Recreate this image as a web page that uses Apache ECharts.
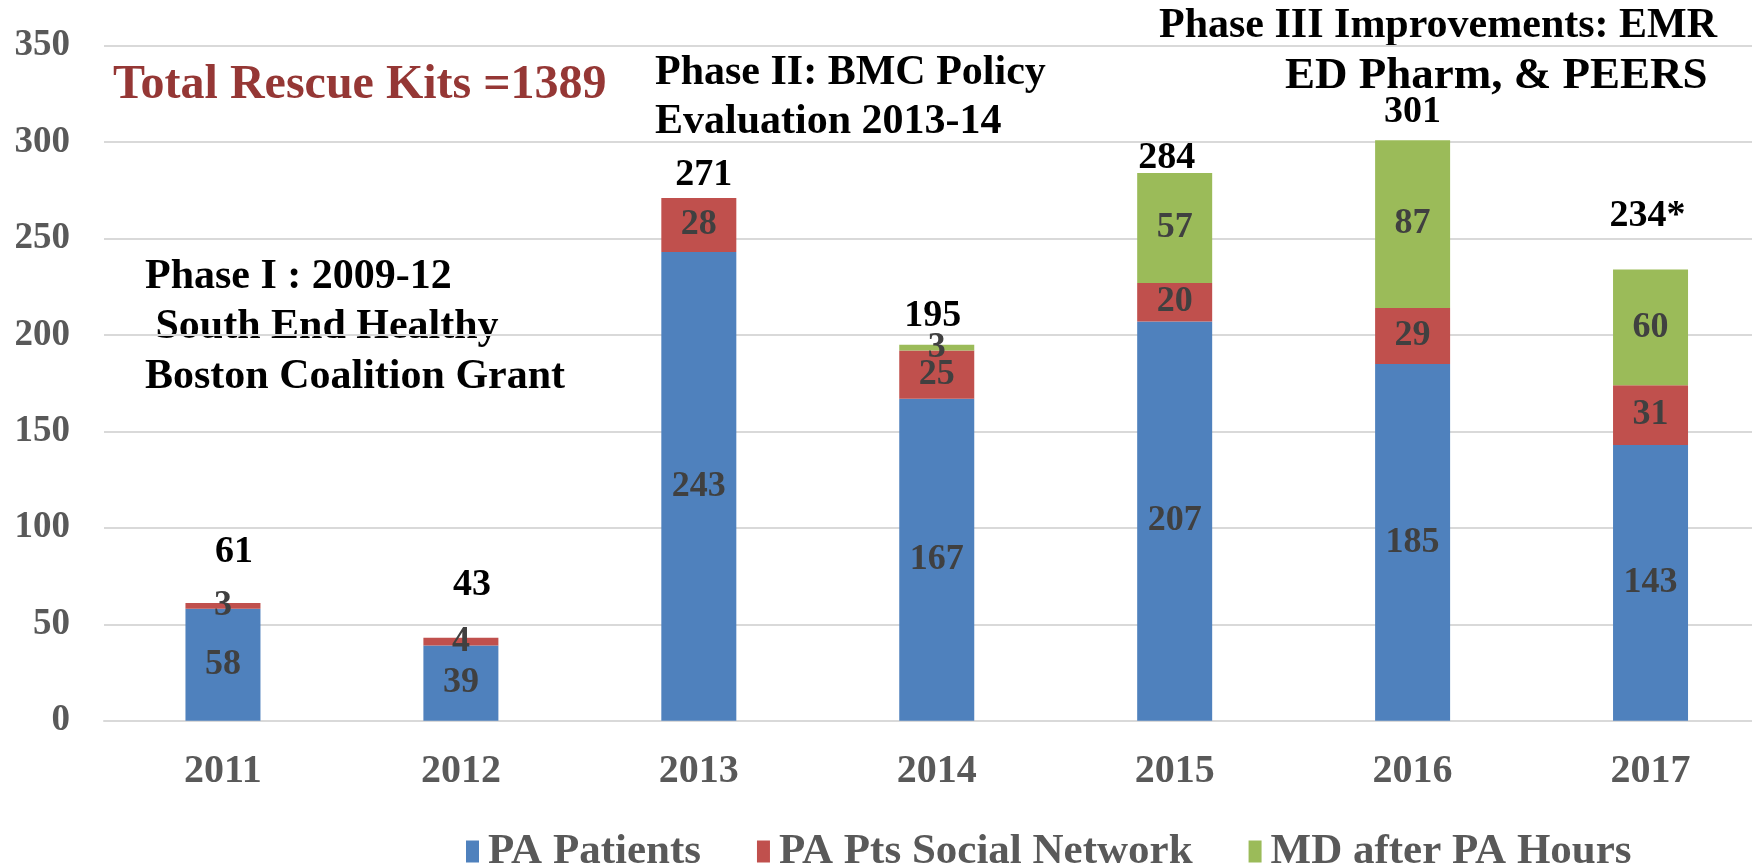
<!DOCTYPE html>
<html>
<head>
<meta charset="utf-8">
<script src="https://cdn.jsdelivr.net/npm/echarts@6/dist/echarts.min.js"></script>
<style>
html,body{margin:0;padding:0;background:#fff;overflow:hidden;width:1752px;height:864px;}
#chart{width:1770px;height:864px;}
</style>
</head>
<body>
<div id="chart"></div>
<script>
const categories = ['2011', '2012', '2013', '2014', '2015', '2016', '2017'];
const paPatients = [58, 39, 243, 167, 207, 185, 143];
const paSocial = [3, 4, 28, 25, 20, 29, 31];
const mdAfter = [0, 0, 0, 3, 57, 87, 60];
const totalLabels = ['61', '43', '271', '195', '284', '301', '234*'];
const yTicks = { min: 0, max: 350, interval: 50 };
const seriesNames = ['PA Patients', 'PA Pts Social Network', 'MD after PA Hours'];

// label nudges (style only): [dx, dy] in px for the hand-placed total labels
const totalLabelNudge = [[11, -26], [11, -28], [5, 2], [-4, -3], [-8, 10], [0, -3], [-3, -28]];

const SERIF = "'Liberation Serif', 'Times New Roman', serif";
const chart = echarts.init(document.getElementById('chart'));

const inLabel = {
  show: true,
  position: 'inside',
  fontFamily: SERIF,
  fontWeight: 'bold',
  fontSize: 36,
  color: '#404040',
  formatter: p => (p.value ? String(p.value) : '')
};

chart.setOption({
  backgroundColor: '#ffffff',
  animation: false,
  grid: { left: 104, right: 0.5, top: 45.7, bottom: 143.3 },
  legend: {
    data: seriesNames,
    left: 461,
    top: 825,
    icon: 'rect',
    itemWidth: 13,
    itemHeight: 22,
    itemGap: 56,
    selectedMode: false,
    textStyle: {
      fontFamily: SERIF,
      fontWeight: 'bold',
      fontSize: 43,
      color: '#595959',
      padding: [0, 0, 0, 4]
    }
  },
  xAxis: {
    type: 'category',
    data: categories,
    axisTick: { show: false },
    axisLine: { show: true, lineStyle: { color: '#D9D9D9', width: 2 } },
    axisLabel: {
      margin: 31,
      fontFamily: SERIF,
      fontWeight: 'bold',
      fontSize: 40,
      color: '#595959'
    }
  },
  yAxis: {
    type: 'value',
    min: yTicks.min,
    max: yTicks.max,
    interval: yTicks.interval,
    axisLine: { show: false },
    axisTick: { show: false },
    splitLine: { lineStyle: { color: '#D9D9D9', width: 2 } },
    axisLabel: {
      margin: 34,
      fontFamily: SERIF,
      fontWeight: 'bold',
      fontSize: 37,
      color: '#595959'
    }
  },
  series: [
    {
      name: seriesNames[0], type: 'bar', stack: 'kits', barWidth: 75,
      data: paPatients, itemStyle: { color: '#4F81BD' }, label: inLabel
    },
    {
      name: seriesNames[1], type: 'bar', stack: 'kits', barWidth: 75,
      data: paSocial, itemStyle: { color: '#C0504D' }, label: inLabel
    },
    {
      name: seriesNames[2], type: 'bar', stack: 'kits', barWidth: 75,
      data: mdAfter, itemStyle: { color: '#9BBB59' }, label: inLabel
    },
    {
      name: 'Total', type: 'bar', stack: 'kits', barWidth: 75,
      data: categories.map((c, i) => ({
        value: 0,
        label: { offset: totalLabelNudge[i] }
      })),
      itemStyle: { color: 'transparent' },
      label: {
        show: true,
        position: 'top',
        distance: 6,
        fontFamily: SERIF,
        fontWeight: 'bold',
        fontSize: 38,
        color: '#000000',
        formatter: p => totalLabels[p.dataIndex]
      }
    }
  ],
  graphic: [
    {
      type: 'text', left: 113, top: 62,
      style: {
        text: 'Total Rescue Kits =1389',
        font: "bold 48px 'Liberation Serif', 'Times New Roman', serif",
        fill: '#953735'
      }
    },
    {
      type: 'text', x: 145, y: 252,
      style: {
        text: 'Phase I : 2009-12\n South End Healthy\nBoston Coalition Grant',
        font: "bold 42px 'Liberation Serif', 'Times New Roman', serif",
        lineHeight: 50,
        fill: '#000000'
      }
    },
    {
      type: 'text', x: 655, y: 49,
      style: {
        text: 'Phase II: BMC Policy\nEvaluation 2013-14',
        font: "bold 42px 'Liberation Serif', 'Times New Roman', serif",
        lineHeight: 49,
        fill: '#000000'
      }
    },
    {
      type: 'text', x: 1159, y: 2,
      style: {
        text: 'Phase III Improvements: EMR',
        font: "bold 42px 'Liberation Serif', 'Times New Roman', serif",
        lineHeight: 49,
        fill: '#000000'
      }
    },
    {
      type: 'text', x: 1285, y: 50,
      style: {
        text: 'ED Pharm, & PEERS',
        font: "bold 45px 'Liberation Serif', 'Times New Roman', serif",
        lineHeight: 52,
        fill: '#000000'
      }
    }
  ]
});
</script>
</body>
</html>
